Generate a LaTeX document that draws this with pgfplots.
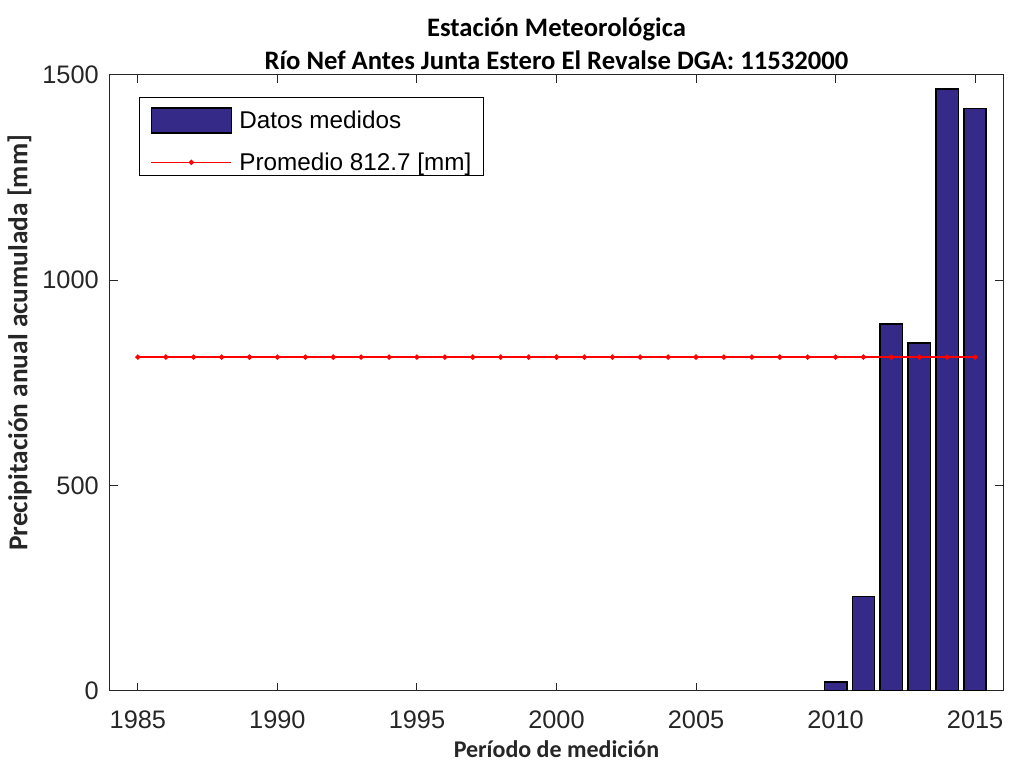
\documentclass[border=0pt]{standalone}
\usepackage{pgfplots}
\pgfplotsset{compat=1.18}
\usepackage{fontspec}
\setmainfont{Liberation Sans}
\newfontfamily\labelfont{Carlito}
\definecolor{barblue}{rgb}{0.2081,0.1663,0.5292}
\definecolor{axgray}{rgb}{0.15,0.15,0.15}

\pgfplotsset{
    barlegend/.style={legend image code/.code={
        \path[draw=none, fill=none] (0pt,16.5pt) -- (66pt,16.5pt);
        \draw[##1, line width=1.2pt] (2pt,-9.5pt) rectangle (62pt,9.5pt);}},
    linelegend/.style={legend image code/.code={
        \path[draw=none, fill=none] (0pt,0pt) -- (66pt,0pt);
        \draw[##1, mark=none] (2pt,0pt) -- (62pt,0pt);
        \fill[red] (32pt,0pt) circle (1.4pt);}},
}

\begin{document}
\begin{tikzpicture}
% page frame, in pt (1 px of the reference = 0.75 pt)
\path[use as bounding box] (-82.5pt,-53.25pt) rectangle (675.25pt,518.25pt);
\begin{axis}[
    at={(0,0)}, anchor=south west,
    scale only axis,
    width=670pt, height=462pt,
    xmin=1984, xmax=2016,
    ymin=0, ymax=1500,
    xtick={1985,1990,...,2015},
    ytick={0,500,1000,1500},
    /pgf/number format/assume math mode=true,
    /pgf/number format/1000 sep={},
    tick align=inside,
    major tick length=6pt,
    axis line style={axgray, line width=0.7pt},
    tick style={axgray, line width=0.7pt},
    ticklabel style={font=\fontsize{19}{22}\selectfont, text=axgray, inner sep=0pt},
    xticklabel style={anchor=base, yshift=-28.5pt},
    yticklabel style={anchor=east, xshift=-8.25pt},
    title style={font=\labelfont\bfseries\fontsize{20}{25}\selectfont, align=center,
        at={(axis description cs:0.5,1)}, anchor=south, inner sep=0pt, yshift=-2.5pt},
    title={Estación Meteorológica\\Río Nef Antes Junta Estero El Revalse DGA: 11532000},
    xlabel={Período de medición},
    ylabel={Precipitación anual acumulada [mm]},
    label style={font=\labelfont\bfseries\fontsize{18}{20}\selectfont, text=axgray, inner sep=0pt},
    xlabel style={at={(axis description cs:0.5,0)}, anchor=base, yshift=-50pt},
    ylabel style={font=\labelfont\bfseries\fontsize{20.5}{23}\selectfont,
        at={(axis description cs:0,0.565)}, anchor=base, yshift=62pt},
    legend style={at={(21.75pt,445.5pt)}, anchor=north west, draw=black,
        line width=0.7pt, font=\fontsize{18.2}{21}\selectfont,
        inner xsep=7pt, inner ysep=0.75pt, row sep=12pt},
    legend cell align=left,
]
\addplot[ybar, bar width=0.8, fill=barblue, draw=black, line width=1.2pt, barlegend]
    coordinates {
    (2010,22)
    (2011,230)
    (2012,893)
    (2013,847)
    (2014,1466)
    (2015,1418)
    };
\addlegendentry{Datos medidos}
\addplot[red, line width=1.1pt, mark=*, mark size=1.4pt, linelegend]
    coordinates {
    (1985,812.7) (1986,812.7) (1987,812.7) (1988,812.7) (1989,812.7)
    (1990,812.7) (1991,812.7) (1992,812.7) (1993,812.7) (1994,812.7)
    (1995,812.7) (1996,812.7) (1997,812.7) (1998,812.7) (1999,812.7)
    (2000,812.7) (2001,812.7) (2002,812.7) (2003,812.7) (2004,812.7)
    (2005,812.7) (2006,812.7) (2007,812.7) (2008,812.7) (2009,812.7)
    (2010,812.7) (2011,812.7) (2012,812.7) (2013,812.7) (2014,812.7)
    (2015,812.7)
    };
\addlegendentry{Promedio 812.7 [mm]}
\end{axis}
\end{tikzpicture}
\end{document}
